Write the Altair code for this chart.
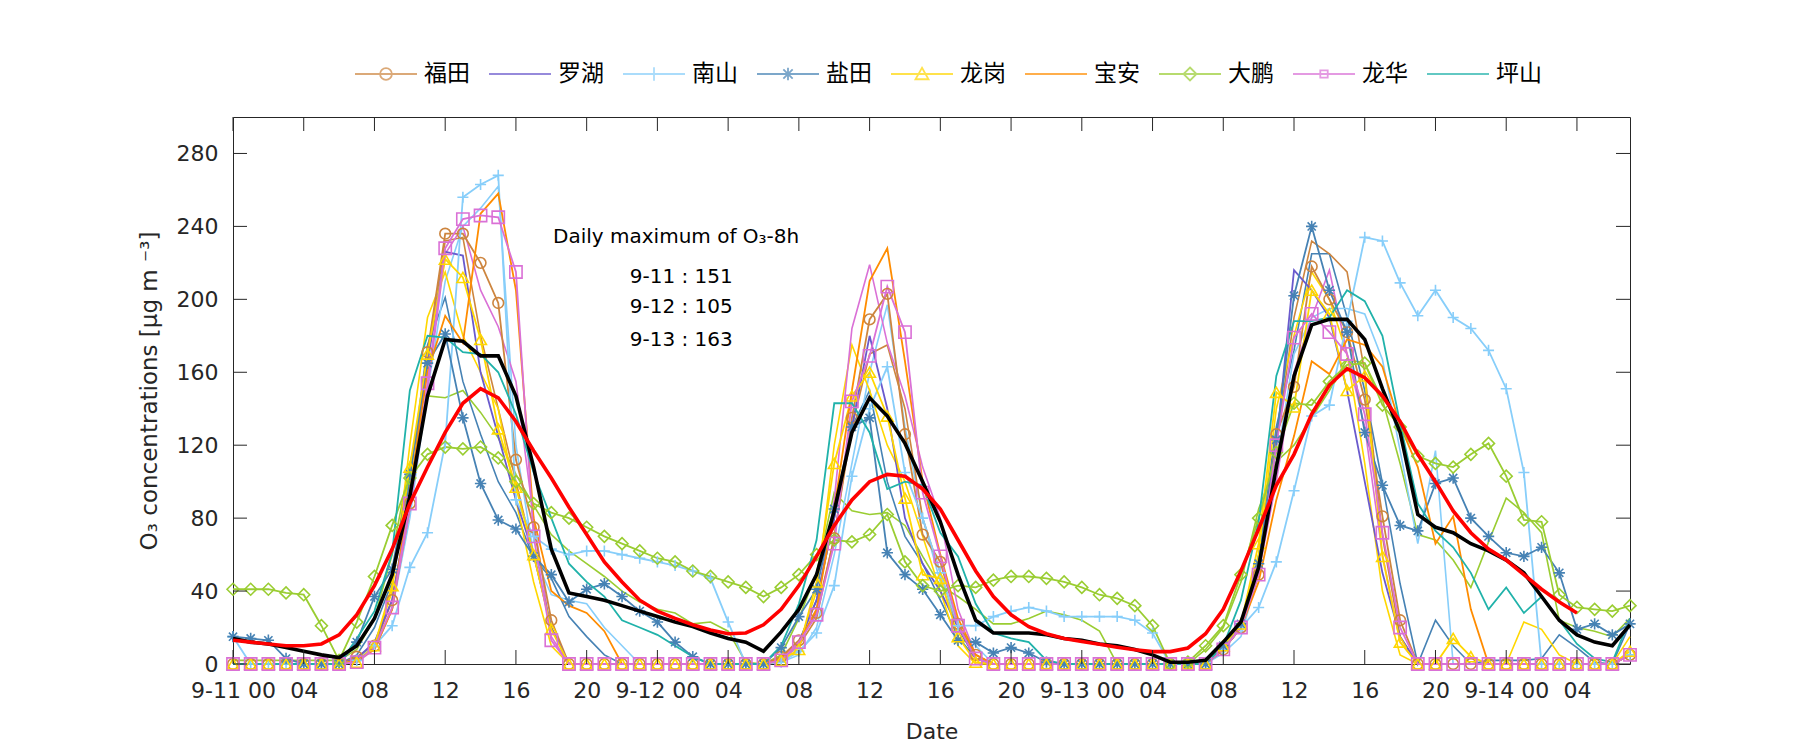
import altair as alt
import pandas as pd

# ---------------- data (hourly from 9-11 00:00) ----------------
HOURS = list(range(80))
STATIONS = ["福田", "罗湖", "南山", "盐田", "龙岗", "宝安", "大鹏", "龙华", "坪山"]
COLORS = ["#CD853F", "#6A5ACD", "#87CEFA", "#4682B4", "#FFD700", "#FF8C00", "#9ACD32", "#DA70D6", "#20B2AA"]

futian = [0, 0, 0, 0, 0, 0, 0, 4, 10, 35, 88, 171, 236, 236, 220, 198, 112, 75, 24, 0,
          0, 0, 0, 0, 0, 0, 0, 0, 0, 0, 0, 4, 13, 28, 69, 135, 189, 203, 126, 71,
          56, 22, 5, 0, 0, 0, 0, 0, 0, 0, 0, 0, 0, 0, 0, 0, 8, 20, 49, 126,
          152, 218, 200, 182, 145, 81, 24, 0, 0, 0, 0, 0, 0, 0, 0, 0, 0, 0, 0, 5]
luohu = [0, 0, 0, 0, 0, 0, 0, 3, 12, 35, 90, 165, 226, 224, 160, 125, 90, 60, 20, 0,
         0, 0, 0, 0, 0, 0, 0, 0, 0, 0, 0, 3, 12, 35, 80, 130, 180, 140, 80, 55,
         40, 20, 3, 0, 0, 0, 0, 0, 0, 0, 0, 0, 0, 0, 0, 0, 8, 20, 55, 120,
         216, 205, 190, 150, 100, 50, 15, 0, 0, 0, 0, 0, 0, 0, 0, 0, 0, 0, 0, 5]
nanshan = [15, 0, 0, 0, 0, 0, 0, 2, 10, 21, 53, 72, 121, 256, 263, 268, 90, 70, 63, 60,
           62, 62, 60, 58, 56, 54, 51, 47, 23, 0, 0, 1, 7, 17, 43, 103, 140, 163, 105, 80,
           50, 21, 21, 26, 29, 31, 29, 26, 26, 26, 26, 24, 17, 0, 0, 1, 8, 20, 31, 56,
           95, 136, 142, 188, 234, 232, 209, 191, 205, 190, 184, 172, 151, 105, 0, 0, 0, 0, 0, 5]
yantian = [15, 14, 13, 3, 0, 0, 0, 12, 37, 52, 104, 165, 181, 135, 99, 79, 74, 59, 49, 34,
           41, 44, 37, 29, 23, 12, 4, 0, 0, 0, 0, 9, 26, 41, 85, 130, 135, 61, 49, 41,
           27, 13, 12, 6, 9, 6, 1, 0, 0, 0, 0, 0, 0, 0, 0, 0, 10, 22, 55, 123,
           202, 240, 205, 182, 127, 98, 76, 73, 99, 102, 80, 70, 61, 59, 64, 50, 19, 22, 16, 22]
longgang = [0, 0, 0, 0, 0, 0, 0, 1, 10, 43, 108, 170, 222, 212, 178, 129, 97, 60, 19, 0,
            0, 0, 0, 0, 0, 0, 0, 0, 0, 0, 0, 2, 8, 45, 110, 147, 160, 136, 91, 49,
            47, 15, 1, 0, 0, 0, 0, 0, 0, 0, 0, 0, 0, 0, 0, 0, 10, 22, 66, 149,
            141, 205, 192, 150, 158, 59, 12, 0, 0, 14, 4, 0, 0, 0, 0, 0, 0, 0, 0, 7]
baoan = [0, 0, 0, 0, 0, 0, 0, 2, 8, 30, 95, 160, 191, 176, 247, 258, 205, 80, 40, 32,
         28, 18, 0, 0, 0, 0, 0, 0, 0, 0, 0, 3, 12, 30, 85, 150, 210, 228, 166, 100,
         60, 25, 5, 0, 0, 0, 0, 0, 0, 0, 0, 0, 0, 0, 0, 0, 8, 20, 45, 90,
         125, 166, 159, 178, 175, 163, 131, 108, 66, 81, 30, 0, 0, 0, 0, 0, 0, 0, 0, 5]
dapeng = [41, 41, 41, 39, 38, 21, 2, 23, 48, 76, 102, 115, 119, 118, 119, 113, 100, 88, 83, 80,
          75, 70, 66, 62, 58, 56, 51, 48, 45, 42, 37, 42, 49, 60, 68, 67, 71, 82, 56, 43,
          40, 43, 42, 46, 48, 48, 47, 45, 42, 38, 36, 32, 21, 0, 1, 10, 21, 49, 80, 116,
          143, 142, 155, 164, 165, 142, 130, 114, 110, 108, 115, 121, 103, 79, 78, 38, 31, 30, 29, 32]
longhua = [0, 0, 0, 0, 0, 0, 0, 1, 9, 31, 88, 154, 228, 244, 246, 245, 215, 70, 13, 0,
           0, 0, 0, 0, 0, 0, 0, 0, 0, 0, 0, 2, 12, 27, 66, 144, 169, 207, 182, 94,
           59, 21, 3, 0, 0, 0, 0, 0, 0, 0, 0, 0, 0, 0, 0, 0, 8, 20, 49, 120,
           179, 192, 182, 170, 137, 72, 20, 0, 0, 0, 0, 0, 0, 0, 0, 0, 0, 0, 0, 5]
pingshan = [0, 0, 0, 0, 0, 0, 0, 14, 29, 61, 150, 180, 179, 171, 170, 160, 137, 105, 80, 55,
            45, 37, 24, 20, 16, 10, 4, 0, 0, 0, 0, 10, 33, 68, 143, 143, 127, 96, 100, 98,
            72, 59, 33, 17, 14, 12, 2, 0, 0, 0, 0, 0, 0, 0, 0, 0, 10, 35, 78, 158,
            188, 188, 190, 205, 199, 180, 132, 88, 73, 64, 50, 30, 42, 28, 37, 24, 11, 3, 1, 25]

# further station curves drawn in re-used colours, not listed in the legend
extra_yg = [2, 2, 2, 2, 2, 2, 2, 8, 25, 60, 110, 147, 146, 150, 138, 124, 104, 87, 71, 62,
            55, 48, 40, 34, 30, 28, 22, 23, 18, 1, 0, 5, 25, 50, 94, 84, 82, 83, 76, 59,
            43, 37, 30, 22, 22, 25, 29, 27, 24, 18, 0, 0, 0, 0, 0, 8, 20, 45, 85, 111,
            120, 135, 150, 167, 165, 145, 110, 71, 68, 57, 42, 67, 91, 83, 72, 24, 20, 18, 15, 25]
extra_sb = [0, 0, 0, 0, 0, 0, 0, 5, 20, 45, 100, 175, 201, 155, 126, 100, 83, 58, 47, 26,
            15, 5, 0, 0, 0, 0, 0, 0, 0, 0, 0, 3, 12, 35, 80, 130, 150, 100, 70, 55,
            35, 15, 3, 0, 0, 0, 0, 0, 0, 0, 0, 0, 0, 0, 0, 0, 8, 20, 60, 130,
            172, 225, 225, 190, 150, 99, 44, 0, 24, 10, 0, 2, 2, 2, 3, 16, 9, 1, 0, 22]
extra_lb = [0, 0, 0, 0, 0, 0, 0, 2, 8, 30, 80, 150, 210, 240, 250, 262, 120, 60, 38, 35,
            33, 20, 10, 0, 0, 0, 0, 0, 0, 0, 0, 1, 5, 20, 60, 110, 160, 197, 130, 80,
            45, 20, 10, 0, 0, 0, 0, 0, 0, 0, 0, 0, 0, 0, 0, 0, 6, 15, 50, 110,
            170, 190, 195, 195, 192, 167, 117, 66, 117, 0, 0, 0, 0, 0, 0, 0, 0, 0, 0, 5]
extra_br = [0, 0, 0, 0, 0, 0, 0, 3, 10, 30, 85, 170, 232, 234, 180, 140, 100, 60, 20, 0,
            0, 0, 0, 0, 0, 0, 0, 0, 0, 0, 0, 3, 10, 25, 70, 130, 170, 175, 140, 80,
            50, 20, 3, 0, 0, 0, 0, 0, 0, 0, 0, 0, 0, 0, 0, 0, 8, 20, 50, 120,
            190, 232, 225, 215, 160, 70, 15, 0, 0, 0, 0, 0, 0, 0, 0, 0, 0, 0, 0, 5]
extra_gd = [0, 0, 0, 0, 0, 0, 0, 2, 10, 40, 120, 190, 215, 180, 160, 140, 90, 45, 10, 0,
            0, 0, 0, 0, 0, 0, 0, 0, 0, 0, 0, 2, 10, 40, 120, 175, 150, 120, 100, 70,
            40, 10, 0, 0, 0, 0, 0, 0, 0, 0, 0, 0, 0, 0, 0, 0, 8, 20, 60, 140,
            180, 215, 200, 170, 110, 40, 5, 0, 0, 0, 0, 0, 0, 23, 19, 5, 0, 0, 0, 15]
extra_or = [0, 0, 0, 0, 0, 0, 0, 1, 8, 30, 85, 150, 225, 240, 205, 185, 155, 80, 15, 0,
            0, 0, 0, 0, 0, 0, 0, 0, 0, 0, 0, 2, 10, 30, 90, 184, 219, 176, 147, 108,
            80, 30, 5, 0, 0, 0, 0, 0, 0, 0, 0, 0, 0, 0, 0, 0, 8, 20, 50, 100,
            160, 190, 216, 170, 130, 60, 12, 0, 0, 0, 0, 0, 0, 0, 0, 0, 0, 0, 0, 5]
EXTRA_NAMES = ["e1", "e2", "e3", "e4", "e5", "e6"]
EXTRA_COLORS = ["#9ACD32", "#4682B4", "#87CEFA", "#CD853F", "#FFD700", "#DA70D6"]

mean_all = [14, 12, 11, 9, 7, 5, 3.5, 10, 25, 49, 92, 147, 178, 177, 169, 169, 147, 108, 63, 39,
            37, 35, 32, 29, 26, 23, 20.5, 17, 14, 12, 7, 17.6, 30, 49, 84, 127, 146, 136, 121, 100,
            78, 49, 24, 17, 17, 17, 16, 14, 13, 11, 10, 8, 5, 1, 1, 2, 12, 23, 53, 108,
            158, 186, 189, 189, 178, 151, 127, 82, 75, 72, 66, 62, 57, 50, 37, 24, 16, 12, 10, 21.5]
smooth = [13, 12, 11, 10, 10, 11, 16, 27, 43, 63, 88, 108, 127, 143, 151, 146, 133, 117, 102, 86,
          71, 56, 45, 35, 29, 25, 21.5, 18.6, 16.6, 17, 21.5, 30, 43, 59, 76, 90, 100, 104, 103, 96,
          85, 68, 51, 37, 27, 20.5, 16.6, 14, 12.3, 10.8, 9.2, 7.8, 6.8, 6.8, 8.8, 16.6, 30, 51, 74, 98,
          115, 137, 153, 162, 157, 147, 133, 115, 100, 84, 72, 63, 57, 49, 41, 34, 28]

SERIES = [futian, luohu, nanshan, yantian, longgang, baoan, dapeng, longhua, pingshan]
EXTRAS = [extra_yg, extra_sb, extra_lb, extra_br, extra_gd, extra_or]

X_TICKS = list(range(0, 80, 4))
Y_TICKS = list(range(0, 281, 40))

MARKER_STATIONS = ["福田", "南山", "盐田", "龙岗", "大鹏", "龙华"]
MARKER_COLORS = ["#CD853F", "#87CEFA", "#4682B4", "#FFD700", "#9ACD32", "#DA70D6"]
MARKER_SHAPES = ["circle", "M-1,0H1M0,-1V1",
                 "M-1,0H1M0,-1V1M-0.72,-0.72L0.72,0.72M-0.72,0.72L0.72,-0.72",
                 "triangle-up", "diamond", "square"]
MARKER_SIZES = [115, 150, 110, 150, 150, 64]

LEGEND_PATHS = [
    "M-1,0H1M-0.19,0A0.19,0.19,0,1,0,0.19,0A0.19,0.19,0,1,0,-0.19,0Z",
    "M-1,0H1",
    "M-1,0H1M0,-0.22V0.22",
    "M-1,0H1M0,-0.2V0.2M-0.15,-0.15L0.15,0.15M-0.15,0.15L0.15,-0.15",
    "M-1,0H1M0,-0.2L0.21,0.17L-0.21,0.17Z",
    "M-1,0H1",
    "M-1,0H1M0,-0.21L0.21,0L0,0.21L-0.21,0Z",
    "M-1,0H1M-0.12,-0.12H0.12V0.12H-0.12Z",
    "M-1,0H1",
]

ANNOT_TITLE = "Daily maximum of O₃-8h"
ANNOT_LINES = ["9-11 : 151", "9-12 : 105", "9-13 : 163"]

# ---------------- tables ----------------
rows = []
for name, vals in zip(STATIONS, SERIES):
    for h, v in zip(HOURS, vals):
        rows.append({"hour": h, "station": name, "value": v})
df = pd.DataFrame(rows)
df_marker = df[df["station"].isin(MARKER_STATIONS)]

erows = []
for name, col, vals in zip(EXTRA_NAMES, EXTRA_COLORS, EXTRAS):
    for h, v in zip(HOURS, vals):
        erows.append({"hour": h, "series": name, "col": col, "value": v})
df_extra = pd.DataFrame(erows)

df_mean = pd.DataFrame({"hour": HOURS, "value": mean_all})
df_smooth = pd.DataFrame({"hour": HOURS[:len(smooth)], "value": smooth})
df_leg = pd.DataFrame({"station": STATIONS})
df_xt = pd.DataFrame({"hour": X_TICKS})
df_yt = pd.DataFrame({"value": Y_TICKS})
df_title = pd.DataFrame({"hour": [18.1], "value": [231], "text": [ANNOT_TITLE]})
df_lines = pd.DataFrame({"hour": [25.35] * 3, "value": [209, 192.5, 174.5], "text": ANNOT_LINES})

W, H = 1397, 547
AX = "#262626"
FONT = "DejaVu Sans"
xs = alt.Scale(domain=[0, 79], nice=False, zero=False)
ys = alt.Scale(domain=[0, 300], nice=False, zero=False)

label_expr = ("datum.value % 24 == 0 ? '9-' + (11 + datum.value / 24) + ' 00' : "
              "(datum.value % 24 < 10 ? '0' + (datum.value % 24) : '' + (datum.value % 24))")

x_axis = alt.Axis(values=X_TICKS, labelExpr=label_expr, title="Date", labelFontSize=22,
                  titleFontSize=22, labelFont=FONT, titleFont=FONT, titleFontWeight="normal",
                  labelColor=AX, titleColor=AX, ticks=False, domain=False, grid=False,
                  labelPadding=16, titlePadding=20, labelFlush=False, labelOverlap=False)
y_axis = alt.Axis(values=Y_TICKS, title="O₃ concentrations [μg m ⁻³]", labelFontSize=22,
                  titleFontSize=23, labelFont=FONT, titleFont=FONT, titleFontWeight="normal",
                  labelColor=AX, titleColor=AX, ticks=False, domain=False, grid=False,
                  labelPadding=15, titlePadding=15)

X = alt.X("hour:Q", scale=xs, axis=x_axis)
Y = alt.Y("value:Q", scale=ys, axis=y_axis)

extra_lines = alt.Chart(df_extra).mark_line(strokeWidth=1.6).encode(
    x=X, y=Y, color=alt.Color("col:N", scale=None), detail="series:N", order="hour:Q")

lines = alt.Chart(df).mark_line(strokeWidth=1.8).encode(
    x=X, y=Y,
    color=alt.Color("station:N", scale=alt.Scale(domain=STATIONS, range=COLORS), legend=None),
    detail="station:N",
    order="hour:Q",
)

points = alt.Chart(df_marker).mark_point(filled=False, strokeWidth=1.6, opacity=1).encode(
    x=X, y=Y,
    color=alt.Color("station:N", scale=alt.Scale(domain=MARKER_STATIONS, range=MARKER_COLORS), legend=None),
    shape=alt.Shape("station:N", scale=alt.Scale(domain=MARKER_STATIONS, range=MARKER_SHAPES), legend=None),
    size=alt.Size("station:N", scale=alt.Scale(domain=MARKER_STATIONS, range=MARKER_SIZES), legend=None),
)

mean_line = alt.Chart(df_mean).mark_line(color="black", strokeWidth=3.6).encode(x=X, y=Y)
smooth_line = alt.Chart(df_smooth).mark_line(color="#FF0000", strokeWidth=3.6).encode(x=X, y=Y)

legend_layer = alt.Chart(df_leg).transform_filter("false").mark_point(filled=False, strokeWidth=1.8).encode(
    color=alt.Color("station:N", scale=alt.Scale(domain=STATIONS, range=COLORS),
                    legend=alt.Legend(title=None, orient="none", direction="horizontal",
                                      legendX=121, legendY=-75, symbolSize=3844,
                                      symbolStrokeWidth=1.8, labelFont="Noto Sans CJK SC",
                                      labelFontSize=23, labelColor="black", labelOffset=6,
                                      columnPadding=15, padding=0)),
    shape=alt.Shape("station:N", scale=alt.Scale(domain=STATIONS, range=LEGEND_PATHS)),
)

tick_b = alt.Chart(df_xt).mark_rule(color=AX, strokeWidth=1).encode(
    x=X, y=alt.value(H), y2=alt.value(H - 14))
tick_t = alt.Chart(df_xt).mark_rule(color=AX, strokeWidth=1).encode(
    x=X, y=alt.value(0), y2=alt.value(14))
tick_l = alt.Chart(df_yt).mark_rule(color=AX, strokeWidth=1).encode(
    y=Y, x=alt.value(0), x2=alt.value(14))
tick_r = alt.Chart(df_yt).mark_rule(color=AX, strokeWidth=1).encode(
    y=Y, x=alt.value(W), x2=alt.value(W - 14))

ann_title = alt.Chart(df_title).mark_text(align="left", baseline="alphabetic", font=FONT,
                                          fontSize=20, color="black").encode(x=X, y=Y, text="text:N")
ann_lines = alt.Chart(df_lines).mark_text(align="center", baseline="alphabetic", font=FONT,
                                          fontSize=20, color="black").encode(x=X, y=Y, text="text:N")

chart = alt.layer(
    extra_lines, lines, points, mean_line, smooth_line, legend_layer,
    tick_b, tick_t, tick_l, tick_r, ann_title, ann_lines,
).resolve_scale(
    color="independent", shape="independent", size="independent"
).properties(
    width=W, height=H, autosize="none",
    padding={"left": 225, "top": 109, "right": 20, "bottom": 82},
).configure_view(
    stroke=AX, strokeWidth=1
)

chart.save("out.html", embed_options={"renderer": "svg", "actions": False})
